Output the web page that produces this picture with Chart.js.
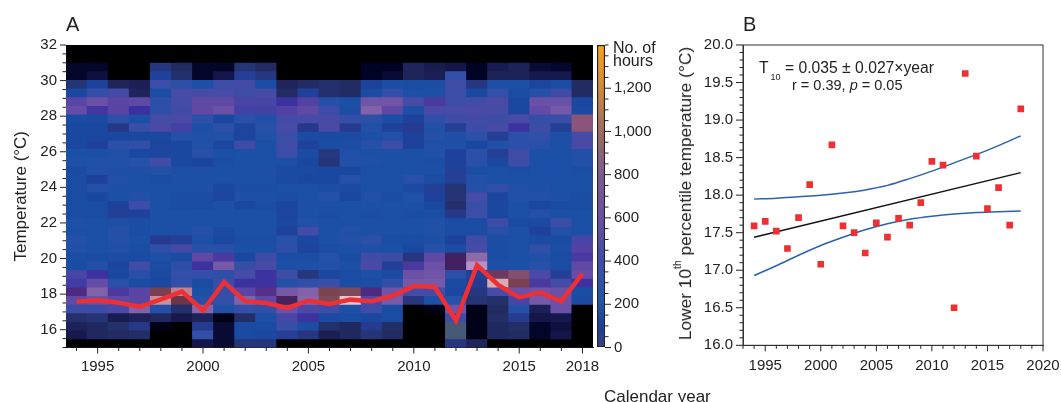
<!DOCTYPE html>
<html>
<head>
<meta charset="utf-8">
<title>Temperature hours and lower 10th percentile</title>
<script src="https://cdn.jsdelivr.net/npm/chart.js@4/dist/chart.umd.js"></script>
<style>
  html, body { margin: 0; padding: 0; width: 1061px; height: 402px; overflow: hidden; background: #fff; }
  body { position: relative; font-family: "Liberation Sans", Arial, sans-serif; color: #222; }
  canvas { position: absolute; top: 0; }
  .txt { position: absolute; white-space: nowrap; }
  sub, sup { font-size: 60%; line-height: 0; }
</style>
</head>
<body>
<canvas id="chart-heat" width="640" height="402" style="left:0"></canvas>
<canvas id="chart-bar" width="80" height="402" style="left:590px"></canvas>
<canvas id="chart-t10" width="380" height="402" style="left:700px"></canvas>

<div class="txt" style="left:66px;top:13px;font-size:20px">A</div>
<div class="txt" style="left:743px;top:13px;font-size:20px">B</div>
<div class="txt" style="left:613px;top:41px;font-size:16px;line-height:13px">No. of<br>hours</div>
<div class="txt" style="left:604px;top:387px;font-size:17px">Calendar year</div>
<div class="txt" style="left:759px;top:59px;font-size:15.7px">T<sub style="font-size:9px;position:relative;top:3px;margin-left:2px">10</sub> = 0.035 ± 0.027×year</div>
<div class="txt" style="left:792px;top:77px;font-size:14.5px">r = 0.39, <i>p</i> = 0.05</div>
<div class="txt" style="left:675px;top:47px;font-size:17.3px;line-height:20px;writing-mode:vertical-rl;transform:rotate(180deg)">Lower 10<sup>th</sup> percentile temperature (°C)</div>

<script>
const years = [1994,1995,1996,1997,1998,1999,2000,2001,2002,2003,2004,2005,2006,2007,2008,2009,2010,2011,2012,2013,2014,2015,2016,2017,2018];
const t10Values = [17.59,17.65,17.52,17.29,17.70,18.14,17.08,18.67,17.59,17.50,17.23,17.63,17.44,17.69,17.60,17.90,18.45,18.40,16.50,19.62,18.52,17.82,18.10,17.60,19.15];
const yearLabels = [1995,2000,2005,2010,2015,2018];

// regression line and its confidence band (panel B)
const fitYears = [1994,2018];
const fitValues = [17.44,18.30];
const bandYears = [1994,1996,1998,2000,2002,2004,2006,2008,2010,2012,2014,2016,2018];
const bandUpper = [17.95,17.96,17.98,18.00,18.03,18.07,18.13,18.22,18.32,18.43,18.54,18.66,18.79];
const bandLower = [16.93,17.06,17.20,17.33,17.44,17.54,17.62,17.68,17.72,17.75,17.77,17.78,17.79];

const hoursRows = [
  [0,0,0,0,0,0,0,0,0,0,0,0,0,0,0,0,0,0,0,0,0,0,0,0,0],
  [0,0,0,0,0,0,0,0,0,0,0,0,0,0,0,0,0,0,0,0,0,0,0,0,0],
  [10,10,0,0,90,60,10,10,80,60,0,0,0,0,8,8,50,35,25,8,35,45,15,12,0],
  [10,20,0,0,130,70,10,25,120,90,0,0,0,0,8,15,50,40,300,8,45,45,30,30,0],
  [80,130,50,40,340,280,200,340,380,170,50,60,70,60,130,180,170,180,360,90,200,190,140,170,60],
  [150,300,380,50,180,400,400,400,360,400,60,130,70,60,170,290,200,200,340,150,300,170,240,360,60],
  [540,600,540,560,280,400,560,560,430,430,470,520,240,190,620,620,400,500,340,370,420,150,600,600,150],
  [580,490,540,475,280,370,560,600,440,440,520,560,340,180,680,560,200,420,400,420,400,150,570,640,160],
  [170,160,280,190,400,420,280,150,260,230,380,400,410,300,270,180,130,280,360,380,350,420,300,330,940],
  [150,150,95,330,420,440,200,280,140,260,400,100,420,110,230,130,110,220,120,340,400,470,350,120,940],
  [150,150,150,150,150,240,210,220,140,220,340,170,160,160,190,220,130,240,210,270,120,270,290,200,390],
  [150,130,270,290,140,150,220,150,360,190,360,130,170,180,250,340,130,210,210,150,220,270,260,190,420],
  [190,190,220,150,140,150,260,190,190,190,340,170,90,210,190,190,190,220,130,270,120,360,190,190,230],
  [210,220,230,250,370,150,140,180,190,190,200,150,85,230,210,190,190,180,130,260,150,360,190,190,230],
  [160,230,210,210,220,200,190,190,190,210,160,160,150,150,190,190,190,190,120,180,190,180,190,190,180],
  [170,130,230,190,170,210,190,190,190,190,160,150,150,240,190,190,260,170,120,230,190,190,190,190,190],
  [170,240,210,190,190,190,210,150,180,180,190,190,180,160,190,190,160,120,80,240,290,230,210,190,190],
  [170,150,190,230,190,180,180,140,210,190,180,190,240,150,230,180,220,130,80,390,140,230,230,210,180],
  [170,170,130,340,190,180,170,190,150,180,140,210,190,190,190,190,190,150,70,330,150,190,150,170,180],
  [170,170,120,130,190,190,190,190,190,190,140,190,180,190,180,190,180,180,100,340,150,190,240,190,190],
  [210,190,190,180,190,190,190,190,190,190,150,220,190,190,190,190,190,220,170,170,350,160,160,350,190],
  [190,190,240,180,190,190,240,160,190,190,130,380,190,230,190,190,190,220,170,170,260,190,130,230,190],
  [240,190,240,190,110,120,200,150,180,180,250,150,190,240,280,170,170,200,130,370,180,190,170,170,430],
  [230,190,230,180,280,380,260,260,190,190,280,140,180,200,210,190,150,250,170,400,180,190,290,180,530],
  [180,170,180,160,210,170,560,500,150,360,180,180,240,170,370,350,90,560,830,720,180,190,220,170,500],
  [170,230,140,370,170,280,480,640,320,400,190,200,230,190,420,120,500,600,830,740,200,190,260,170,560],
  [430,480,150,260,160,300,300,280,400,480,360,90,150,170,190,160,600,620,270,130,900,930,420,120,580],
  [450,580,260,170,150,290,170,330,470,480,240,290,330,180,180,290,640,640,160,110,1200,950,500,400,480],
  [800,680,500,540,950,1100,190,300,540,790,640,680,990,1000,800,620,400,390,150,90,400,600,620,600,180],
  [560,600,560,540,1150,960,240,300,680,560,840,700,1000,1250,420,650,90,190,250,80,70,430,640,600,160],
  [350,350,420,680,240,70,700,220,300,290,600,420,360,190,350,170,0,5,620,5,60,240,40,600,0],
  [70,80,35,45,55,30,45,5,65,200,430,480,160,170,150,170,0,0,360,5,65,110,25,30,0],
  [45,55,70,100,5,0,110,15,160,160,330,180,70,55,110,65,0,0,115,5,55,65,10,20,0],
  [30,55,60,65,0,0,300,15,160,150,120,90,40,55,80,60,0,0,115,5,55,60,10,25,0],
  [0,0,0,0,0,0,25,15,85,85,0,0,0,0,0,0,0,0,90,50,0,0,0,0,0]
];

const tempMin = 15, tempMax = 32;
const barMax = 1400;

// cell colours, hours -> colour
const cellStops = [
  [0,'#000000'],[8,'#010325'],[25,'#14164a'],[45,'#1d2258'],[60,'#222c62'],[80,'#253474'],
  [100,'#26388a'],[114,'#263c92'],[115,'#465a78'],[116,'#263e94'],[130,'#1e429c'],[150,'#1a48a0'],
  [190,'#1c4fa6'],[240,'#2450a8'],[300,'#334fa8'],[360,'#3f4ca6'],[420,'#4a4aa6'],[475,'#3a30a0'],
  [500,'#4a3aa0'],[540,'#5a45a5'],[600,'#6a50a6'],[660,'#7a5ca8'],[720,'#8e6aa8'],[740,'#b890c8'],
  [780,'#5a3590'],[800,'#4d2a80'],[830,'#42205f'],[900,'#6b3a60'],[940,'#8a5578'],[950,'#7a4050'],
  [960,'#6e3448'],[990,'#7a4452'],[1100,'#c08090'],[1150,'#c89098'],[1250,'#e8c4cc']
];
const barStops = [
  [0,'#3b3f80'],[100,'#17409a'],[200,'#1e55a6'],[400,'#3f4da8'],[600,'#6a50a0'],
  [800,'#7b5c8c'],[1000,'#a06a60'],[1200,'#d08a3a'],[1400,'#fba020']
];

function hex(c) {
  return [1,3,5].map(i => parseInt(c.substr(i,2),16));
}
function cellColor(h) {
  for (let i = 1; i < cellStops.length; i++) {
    if (h <= cellStops[i][0]) {
      const a = cellStops[i-1], b = cellStops[i];
      const f = (h-a[0])/(b[0]-a[0]);
      const ca = hex(a[1]), cb = hex(b[1]);
      return 'rgb(' + ca.map((v,k) => Math.round(v+(cb[k]-v)*f)).join(',') + ')';
    }
  }
  return cellStops[cellStops.length-1][1];
}

// chart.js has a single tick length, so draw major and minor ticks here
const tickPlugin = {
  id: 'ticks2',
  afterDraw(chart) {
    const c = chart.ctx;
    c.save();
    c.strokeStyle = '#222';
    c.lineWidth = 1;
    Object.values(chart.scales).forEach(s => {
      if (!s.options.display) return;
      s.ticks.forEach((t, i) => {
        const len = t.label ? s.options.grid.tickLength : 3.5;
        const p = s.getPixelForTick(i);
        c.beginPath();
        if (s.axis === 'x') {
          c.moveTo(p, s.top); c.lineTo(p, s.top+len);
        } else if (s.position === 'right') {
          c.moveTo(s.left, p); c.lineTo(s.left+len, p);
        } else {
          c.moveTo(s.right, p); c.lineTo(s.right-len, p);
        }
        c.stroke();
      });
    });
    // panel B has a closed frame
    if (chart.canvas.id === 'chart-t10') {
      const a = chart.chartArea;
      c.strokeStyle = '#333';
      c.strokeRect(a.left, a.top, a.right-a.left, a.bottom-a.top);
    }
    c.restore();
  }
};

const font15 = {family: '"Liberation Sans", Arial, sans-serif', size: 15};
const baseOpts = {
  responsive: false,
  animation: false,
  events: [],
};

// A: one floating bar dataset per temperature bin
const heatSets = hoursRows.map((row, n) => {
  const hi = tempMax-(tempMax-tempMin)*n/hoursRows.length;
  const lo = tempMax-(tempMax-tempMin)*(n+1)/hoursRows.length;
  return {
    type: 'bar',
    order: 1,
    grouped: false,
    barPercentage: 1,
    categoryPercentage: 1,
    inflateAmount: 0.4,
    data: row.map(() => [lo, hi]),
    backgroundColor: row.map(cellColor),
  };
});
heatSets.push({
  type: 'line',
  order: 0,
  data: t10Values,
  borderColor: '#ee2f33',
  borderWidth: 4.5,
  pointRadius: 0,
  tension: 0,
  borderJoinStyle: 'miter',
});

new Chart(document.getElementById('chart-heat'), {
  data: {labels: years, datasets: heatSets},
  plugins: [tickPlugin],
  options: {
    ...baseOpts,
    layout: {padding: {top: 45, right: 47}},
    plugins: {legend: {display: false}, tooltip: {enabled: false}},
    scales: {
      x: {
        grid: {drawOnChartArea: false, tickLength: 6, tickColor: 'transparent'},
        border: {color: '#222'},
        afterFit(s) { s.height = 54.5; },
        ticks: {
          font: font15, color: '#222', padding: 4, autoSkip: false, maxRotation: 0,
          callback(v) { const y = years[v]; return yearLabels.includes(y) ? String(y) : ''; },
        },
      },
      y: {
        min: tempMin, max: tempMax,
        grid: {drawOnChartArea: false, tickLength: 6, tickColor: 'transparent'},
        border: {color: '#222'},
        afterFit(s) { s.width = 66; },
        title: {display: true, text: 'Temperature (°C)', color: '#222', padding: {top: 11, bottom: 0},
                font: {family: font15.family, size: 17}},
        ticks: {
          font: font15, color: '#222', padding: 3, stepSize: 0.5, autoSkip: false,
          callback(v) { return v % 2 === 0 ? String(v) : ''; },
        },
      },
    },
  },
});

// colour key
function barGradient(ctx) {
  const chart = ctx.chart;
  if (!chart.chartArea) return barStops[0][1];
  const s = chart.scales.y;
  const g = chart.ctx.createLinearGradient(0, s.getPixelForValue(0), 0, s.getPixelForValue(barMax));
  barStops.forEach(p => g.addColorStop(p[0]/barMax, p[1]));
  return g;
}
new Chart(document.getElementById('chart-bar'), {
  type: 'bar',
  data: {labels: ['hours'], datasets: [{
    data: [[0, barMax]],
    backgroundColor: barGradient,
    borderColor: '#222',
    borderWidth: 1.5,
    borderSkipped: false,
    barPercentage: 1,
    categoryPercentage: 1,
  }]},
  plugins: [tickPlugin],
  options: {
    ...baseOpts,
    layout: {padding: {top: 45, left: 7, bottom: 54.5}},
    plugins: {legend: {display: false}, tooltip: {enabled: false}},
    scales: {
      x: {display: false},
      y: {
        position: 'right',
        min: 0, max: barMax,
        grid: {drawOnChartArea: false, tickLength: 6, tickColor: 'transparent'},
        border: {display: false},
        afterFit(s) { s.width = 65; },
        ticks: {
          font: font15, color: '#222', padding: 3, stepSize: 50, autoSkip: false,
          callback(v) { return v % 200 === 0 && v < barMax ? v.toLocaleString('en-US') : ''; },
        },
      },
    },
  },
});

// B: scatter with fit and band
const toXY = (xs, ys) => xs.map((x, i) => ({x: x, y: ys[i]}));
const bandStyle = {
  showLine: true, pointRadius: 0, borderColor: '#2a62ae', borderWidth: 1.5,
  cubicInterpolationMode: 'monotone',
};
new Chart(document.getElementById('chart-t10'), {
  type: 'scatter',
  data: {datasets: [
    {data: toXY(years, t10Values), pointStyle: 'rect', pointRadius: 4.7, backgroundColor: '#ee2f33', borderWidth: 0, order: 0},
    {data: toXY(fitYears, fitValues), showLine: true, pointRadius: 0, borderColor: '#111', borderWidth: 1.5, order: 1},
    {data: toXY(bandYears, bandUpper), ...bandStyle, order: 1},
    {data: toXY(bandYears, bandLower), ...bandStyle, order: 1},
  ]},
  plugins: [tickPlugin],
  options: {
    ...baseOpts,
    layout: {padding: {top: 45, right: 37}},
    plugins: {legend: {display: false}, tooltip: {enabled: false}},
    scales: {
      x: {
        min: 1993, max: 2020,
        grid: {drawOnChartArea: false, tickLength: 6, tickColor: 'transparent'},
        border: {color: '#333'},
        afterFit(s) { s.height = 56.7; },
        ticks: {
          font: font15, color: '#222', padding: 6, stepSize: 1, autoSkip: false, maxRotation: 0,
          callback(v) { return v % 5 === 0 ? String(v) : ''; },
        },
      },
      y: {
        min: 16, max: 20,
        grid: {drawOnChartArea: false, tickLength: 7, tickColor: 'transparent'},
        border: {color: '#333'},
        afterFit(s) { s.width = 43; },
        ticks: {
          font: font15, color: '#222', padding: 3, stepSize: 0.1, autoSkip: false,
          callback(v) {
            const d = Math.round(v*10);
            return d % 5 === 0 ? (d/10).toFixed(1) : '';
          },
        },
      },
    },
  },
});
</script>
</body>
</html>
